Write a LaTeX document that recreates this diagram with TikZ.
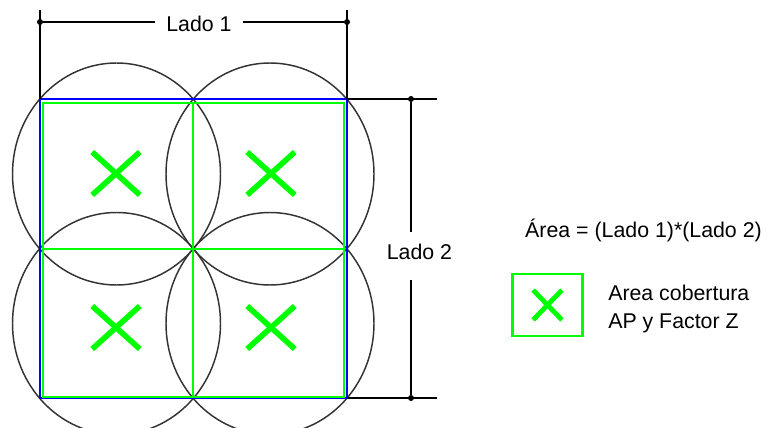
\documentclass[tikz,border=0pt]{standalone}
\usepackage{fontspec}
\setmainfont{Liberation Sans}
\usetikzlibrary{shapes.misc,positioning,calc}
\definecolor{apgreen}{RGB}{0,255,0}
\definecolor{apblue}{RGB}{0,0,255}

\begin{document}
\begin{tikzpicture}[
    x=0.75pt, y=-0.75pt,
    font=\fontsize{16}{20}\selectfont,
    dimline/.style={draw=black, line width=1.1pt},
    dimdot/.style={circle, fill=black, inner sep=0pt, minimum size=4.5pt},
    dimtext/.style={inner sep=0pt, anchor=base},
    zone/.style={draw=black!80, line width=1.1pt},
    cellgrid/.style={draw=apgreen, line width=1.6pt},
    bound/.style={draw=apblue, line width=1.6pt},
    apcross/.style={cross out, draw=apgreen, line width=4.2pt,
        inner sep=0pt, minimum width=31.5pt, minimum height=28pt}
]
    \useasboundingbox (0,0) rectangle (767,428);

    % Corners of the covered area
    \coordinate (tl) at (40,99);
    \coordinate (tr) at (347,99);
    \coordinate (bl) at (40,398);
    \coordinate (br) at (347,398);
    \coordinate (q1) at (116.5,174);
    \coordinate (q2) at (270,174);
    \coordinate (q3) at (116.5,323.5);
    \coordinate (q4) at (270,323.5);

    % AP coverage circles
    \foreach \q in {q1,q2,q3,q4}
        \draw [zone] (\q) ellipse [x radius=104, y radius=111];

    % Total area and cells
    \draw [bound] (tl) rectangle (br);
    \draw [cellgrid] (43,103) rectangle (344,397);
    \draw [cellgrid] (193,103) -- (193,397);
    \draw [cellgrid] (43,249) -- (344,249);

    \node [apcross] (x1) at (116,173.5) {};
    \node [apcross] (x2) at (271,173.5) {};
    \node [apcross] (x3) at (116,327.5) {};
    \node [apcross] (x4) at (271,327.5) {};

    % Dimension Lado 1
    \coordinate (e1a) at (40,10);
    \coordinate (e1b) at (347,10);
    \node [dimdot] (d1a) at (40,22) {};
    \node [dimdot] (d1b) at (347,22) {};
    \node [dimtext, inner xsep=8.6pt] (lado1) at (199,32) {Lado 1};
    \draw [dimline] (e1a) -- (tl);
    \draw [dimline] (e1b) -- (tr);
    \draw [dimline] (d1a) -- (lado1.west |- d1a);
    \draw [dimline] (lado1.east |- d1b) -- (d1b);

    % Dimension Lado 2
    \coordinate (e2a) at (437,99);
    \coordinate (e2b) at (437,398);
    \node [dimdot] (d2a) at (411,99) {};
    \node [dimdot] (d2b) at (411,398) {};
    \node [dimtext] (lado2) at (419.5,259) {Lado 2};
    \coordinate (g2a) at (411,232);
    \coordinate (g2b) at (411,280);
    \draw [dimline] (tr) -- (e2a);
    \draw [dimline] (br) -- (e2b);
    \draw [dimline] (d2a) -- (g2a);
    \draw [dimline] (g2b) -- (d2b);

    % Legend
    \node [dimtext] (area) at (643.5,237) {Área = (Lado 1)*(Lado 2)};
    \node [draw=apgreen, line width=2.2pt, minimum width=53pt,
        minimum height=46.5pt] (legbox) at (547.5,305) {};
    \node [apcross, line width=3.6pt, minimum width=18pt,
        minimum height=18.75pt] (legx) at (legbox.center) {};
    \node [inner sep=0pt, align=left, font=\fontsize{16}{20.5}\selectfont,
        anchor=north west] (legtext) at (608,285) {Area cobertura\\AP y Factor Z};

\end{tikzpicture}
\end{document}
